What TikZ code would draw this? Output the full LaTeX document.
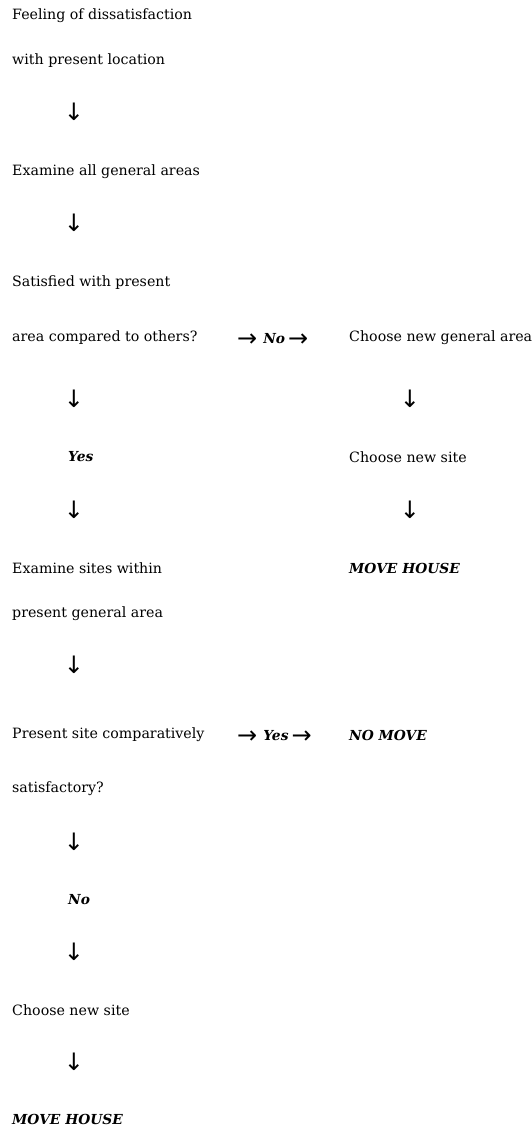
\documentclass[tikz,border=0pt]{standalone}
\usepackage{fontspec}
\setmainfont{DejaVu Serif}
\newfontfamily\arrowfont{DejaVu Sans}
\newcommand{\harr}{\raisebox{-3pt}{\arrowfont\fontsize{24}{24}\selectfont →}}
\newcommand{\bifont}{\fontsize{13.8}{16}\selectfont\bfseries\itshape}
\begin{document}
\begin{tikzpicture}[x=1pt,y=-1pt,
  txt/.style={anchor=west,inner sep=0pt,font=\fontsize{14.2}{16}\selectfont},
  arr/.style={inner sep=0pt,font=\arrowfont\fontsize{24}{26}\selectfont},
  bi/.style={anchor=west,inner sep=0pt,font=\bifont}]
\useasboundingbox (0,0) rectangle (531,1129);
\node[txt] (l1) at (12,16) {Feeling of dissatisfaction};
\node[txt] (l2) at (12,61) {with present location};
\node[arr] (a1) at (74,112) {↓};
\node[txt] (l3) at (12,172) {Examine all general areas};
\node[arr] (a2) at (74,223) {↓};
\node[txt] (l4) at (12,283) {Satisfied with present};
\node[txt] (l5) at (12,338) {area compared to others?};
\node[txt,anchor=base west] (n1) at (237,343) {\harr\hspace{6pt}{\bifont No}\hspace{3pt}\harr};
\node[txt] (r1) at (349,338) {Choose new general area};
\node[arr] (a3) at (74,399) {↓};
\node[arr] (a4) at (410,399) {↓};
\node[bi] (y1) at (68,457) {Yes};
\node[txt] (r2) at (349,457) {Choose new site};
\node[arr] (a5) at (74,510) {↓};
\node[arr] (a6) at (410,510) {↓};
\node[txt] (l6) at (12,568) {Examine sites within};
\node[bi] (r3) at (349,568) {MOVE HOUSE};
\node[txt] (l7) at (12,614) {present general area};
\node[arr] (a7) at (74,665) {↓};
\node[txt] (l8) at (12,735) {Present site comparatively};
\node[txt,anchor=base west] (y2) at (237,740) {\harr\hspace{6pt}{\bifont Yes}\hspace{3pt}\harr};
\node[bi] (r4) at (349,735) {NO MOVE};
\node[txt] (l9) at (12,789) {satisfactory?};
\node[arr] (a8) at (74,842) {↓};
\node[bi] (n2) at (68,900) {No};
\node[arr] (a9) at (74,952) {↓};
\node[txt] (l10) at (12,1010) {Choose new site};
\node[arr] (a10) at (74,1062) {↓};
\node[bi] (l11) at (12,1119) {MOVE HOUSE};
\end{tikzpicture}
\end{document}
